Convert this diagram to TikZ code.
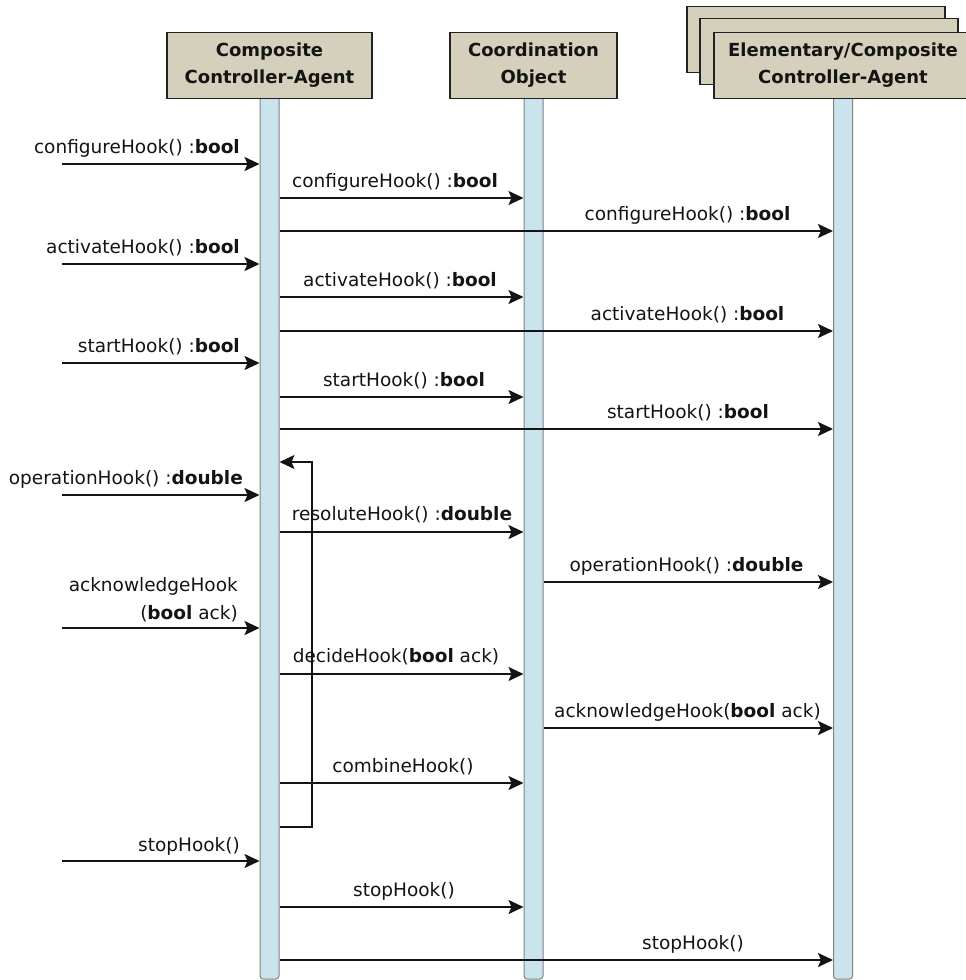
\documentclass[tikz,border=0pt]{standalone}
\usepackage{fontspec}
\setmainfont{DejaVu Sans}
\usetikzlibrary{arrows.meta}
\definecolor{headfill}{RGB}{212,208,188}
\definecolor{headline}{RGB}{34,34,34}
\definecolor{barfill}{RGB}{201,228,236}
\definecolor{barline}{RGB}{130,130,130}
\definecolor{ink}{RGB}{20,20,20}
\begin{document}
\begin{tikzpicture}[x=1pt,y=-1pt,
  headbox/.style={draw=headline, line width=1.6pt, fill=headfill, inner sep=0pt,
    minimum height=66pt, align=center, text=ink,
    font=\bfseries\fontsize{18}{27}\selectfont},
  lifebar/.style={draw=barline, line width=1pt, fill=barfill, inner sep=0pt,
    minimum width=19pt, minimum height=884pt, rounded corners=3pt},
  msg/.style={draw=ink, line width=1.8pt, -{Stealth[length=15pt,width=14pt,inset=3pt]}},
  loopline/.style={draw=ink, line width=1.6pt, -{Stealth[length=15pt,width=14pt,inset=3pt]}},
  lbl/.style={inner sep=0pt, text=ink, font=\fontsize{18.5}{28}\selectfont},
]
\useasboundingbox (0,0) rectangle (966,980);
\fill[white] (0,0) rectangle (966,980);

% lifeline bars
\node[lifebar] (b1) at (269.5,537) {};
\node[lifebar] (b2) at (533.5,537) {};
\node[lifebar] (b3) at (843,537) {};

% participant heads
\node[headbox, minimum width=205pt] (h1) at (269.5,65.5) {Composite\\Controller-Agent};
\node[headbox, minimum width=167pt] (h2) at (533.5,65.5) {Coordination\\Object};
\node[headbox, minimum width=258pt] (h3c) at (816,39.5) {};
\node[headbox, minimum width=258pt] (h3b) at (829,51.5) {};
\node[headbox, minimum width=258pt] (h3) at (843,65.5) {Elementary/Composite\\Controller-Agent};

% message rows
\coordinate (e1) at (62,164);
\coordinate (m1) at (0,198);
\coordinate (m2) at (0,231);
\coordinate (e2) at (62,264);
\coordinate (m3) at (0,297);
\coordinate (m4) at (0,331);
\coordinate (e3) at (62,363);
\coordinate (m5) at (0,397);
\coordinate (m6) at (0,429);
\coordinate (e4) at (62,495);
\coordinate (m7) at (0,532);
\coordinate (m8) at (0,582);
\coordinate (e5) at (62,628);
\coordinate (m9) at (0,674);
\coordinate (m10) at (0,728);
\coordinate (m11) at (0,783);
\coordinate (e6) at (62,861);
\coordinate (m12) at (0,907);
\coordinate (m13) at (0,960);
\coordinate (looptop) at (312,462);
\coordinate (loopbot) at (312,827);

% incoming messages
\draw[msg] (e1) -- (e1 -| b1.west);
\draw[msg] (e2) -- (e2 -| b1.west);
\draw[msg] (e3) -- (e3 -| b1.west);
\draw[msg] (e4) -- (e4 -| b1.west);
\draw[msg] (e5) -- (e5 -| b1.west);
\draw[msg] (e6) -- (e6 -| b1.west);

\node[lbl, anchor=base east] at (240,153.5) {configureHook() :\textbf{bool}};
\node[lbl, anchor=base east] at (240,253.5) {activateHook() :\textbf{bool}};
\node[lbl, anchor=base east] at (240,352.5) {startHook() :\textbf{bool}};
\node[lbl, anchor=base east] at (243,484) {operationHook() :\textbf{double}};
\node[lbl, anchor=base east] at (238,591) {acknowledgeHook};
\node[lbl, anchor=base east] at (238,619) {(\textbf{bool} ack)};
\node[lbl, anchor=base east] at (240,851) {stopHook()};

% messages to the coordination object
\draw[msg] (m1 -| b1.east) -- (m1 -| b2.west);
\draw[msg] (m3 -| b1.east) -- (m3 -| b2.west);
\draw[msg] (m5 -| b1.east) -- (m5 -| b2.west);
\draw[msg] (m7 -| b1.east) -- (m7 -| b2.west);
\draw[msg] (m9 -| b1.east) -- (m9 -| b2.west);
\draw[msg] (m11 -| b1.east) -- (m11 -| b2.west);
\draw[msg] (m12 -| b1.east) -- (m12 -| b2.west);

\node[lbl, anchor=base] at (395,187.5) {configureHook() :\textbf{bool}};
\node[lbl, anchor=base] at (400,286.5) {activateHook() :\textbf{bool}};
\node[lbl, anchor=base] at (404,386.5) {startHook() :\textbf{bool}};
\node[lbl, anchor=base] at (402,520) {resoluteHook() :\textbf{double}};
\node[lbl, anchor=base] at (396,662) {decideHook(\textbf{bool} ack)};
\node[lbl, anchor=base] at (403,772) {combineHook()};
\node[lbl, anchor=base] at (404,896) {stopHook()};

% messages to the sub-agents
\draw[msg] (m2 -| b1.east) -- (m2 -| b3.west);
\draw[msg] (m4 -| b1.east) -- (m4 -| b3.west);
\draw[msg] (m6 -| b1.east) -- (m6 -| b3.west);
\draw[msg] (m13 -| b1.east) -- (m13 -| b3.west);
\draw[msg] (m8 -| b2.east) -- (m8 -| b3.west);
\draw[msg] (m10 -| b2.east) -- (m10 -| b3.west);

\node[lbl, anchor=base] at (687.5,220.5) {configureHook() :\textbf{bool}};
\node[lbl, anchor=base] at (687.5,320) {activateHook() :\textbf{bool}};
\node[lbl, anchor=base] at (688,418.5) {startHook() :\textbf{bool}};
\node[lbl, anchor=base] at (693,949) {stopHook()};
\node[lbl, anchor=base] at (686.5,571.5) {operationHook() :\textbf{double}};
\node[lbl, anchor=base] at (687.5,717.5) {acknowledgeHook(\textbf{bool} ack)};

% operation cycle loop back to the start of the cycle
\draw[loopline] (loopbot -| b1.east) -- (loopbot) -- (looptop) -- (looptop -| b1.east);
\end{tikzpicture}
\end{document}
